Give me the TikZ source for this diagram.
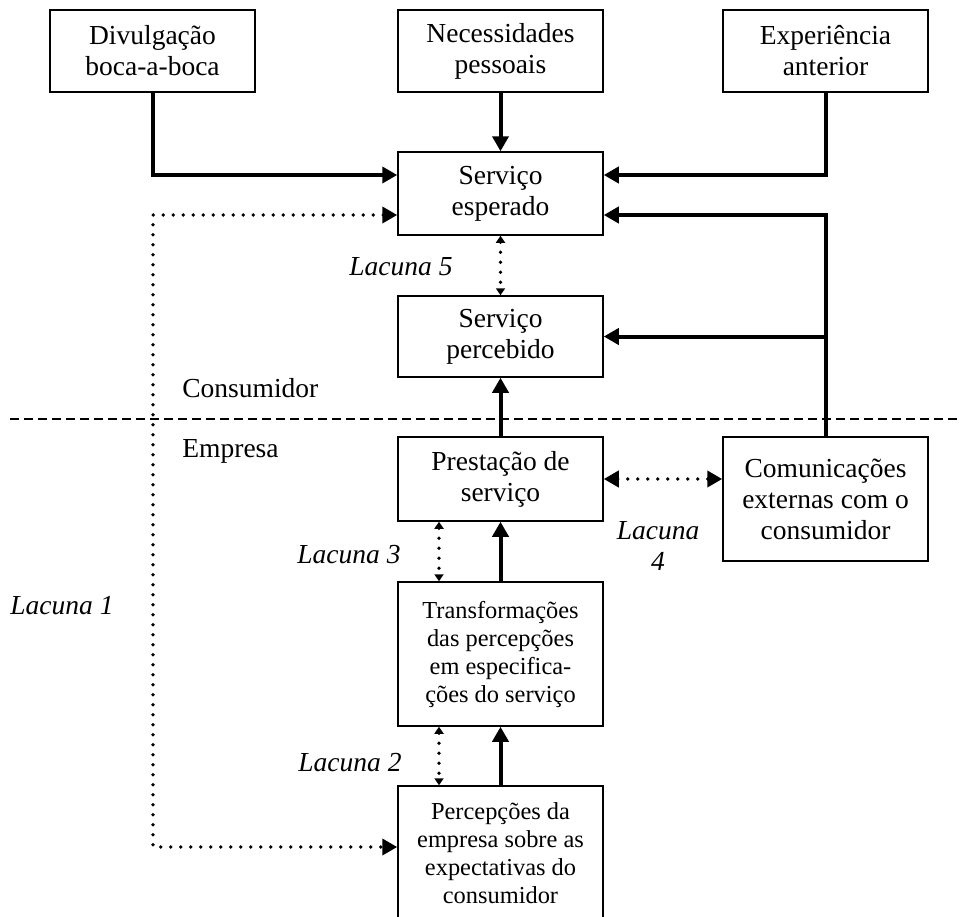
\documentclass[tikz,border=0pt]{standalone}
\usepackage{fontspec}
\setmainfont{Liberation Serif}
\usetikzlibrary{arrows.meta}

\begin{document}
\begin{tikzpicture}[x=0.5pt,y=-0.5pt,
  font=\fontsize{13.75}{15.5}\selectfont,
  caixa/.style={draw,line width=0.75pt,minimum width=102.5pt,inner sep=0pt,align=center},
  menor/.style={font=\fontsize{12.2}{14}\selectfont},
  fluxo/.style={line width=2pt,-{Triangle[length=7.5pt,width=8pt]}},
  lacuna/.style={line width=1.9pt,dash pattern=on 0pt off 5pt,line cap=round},
  lacunaP/.style={lacuna,{Triangle[length=3.5pt,width=4.5pt]}-{Triangle[length=3.5pt,width=4.5pt]}},
  lacunaG/.style={lacuna,{Triangle[length=7.5pt,width=8pt]}-{Triangle[length=7.5pt,width=8pt]}},
  rotulo/.style={font=\fontsize{13.75}{15.5}\selectfont\itshape,inner sep=0pt,align=center}]
  \useasboundingbox (0,0) rectangle (961,916);
  % caixas
  \node[caixa,minimum height=41pt] (divulg) at (152.5,51) {Divulgação\\boca-a-boca};
  \node[caixa,minimum height=41pt] (necess) at (500.5,51) {Necessidades\\pessoais};
  \node[caixa,minimum height=41pt] (exper) at (825.5,51) {Experiência\\anterior};
  \node[caixa,minimum height=41.5pt] (esperado) at (500.5,193.5) {Serviço\\esperado};
  \node[caixa,minimum height=40.5pt] (percebido) at (500.5,336.5) {Serviço\\percebido};
  \node[caixa,minimum height=42pt] (prestacao) at (500.5,479) {Prestação de\\serviço};
  \node[caixa,minimum height=62pt] (comunic) at (825.5,499) {Comunicações\\externas com o\\consumidor};
  \node[caixa,menor,minimum height=72pt] (transf) at (500.5,654) {Transformações\\das percepções\\em especifica-\\ções do serviço};
  \node[caixa,menor,minimum height=67pt] (percep) at (500.5,853) {Percepções da\\empresa sobre as\\expectativas do\\consumidor};
  % divisao consumidor / empresa
  \draw[line width=0.65pt,dash pattern=on 4.5pt off 2.5pt] (10,419) -- (961,419);
  \node[anchor=west,inner sep=0pt] (consum) at (182,388) {Consumidor};
  \node[anchor=west,inner sep=0pt] (empresa) at (182,451) {Empresa};
  % fluxos
  \draw[fluxo] (divulg.south) |- ([yshift=9.25pt]esperado.west);
  \draw[fluxo] (necess) -- (esperado);
  \draw[fluxo] (exper.south) |- ([yshift=9.25pt]esperado.east);
  \draw[fluxo] (comunic.north) |- ([yshift=-10.75pt]esperado.east);
  \draw[fluxo] (comunic.north |- percebido.east) -- (percebido.east);
  \draw[fluxo] (prestacao) -- (percebido);
  \draw[fluxo] (transf) -- (prestacao);
  \draw[fluxo] (percep) -- (transf);
  % lacunas
  \coordinate (canto) at (153,847);
  \draw[lacunaG] ([yshift=-10.75pt]esperado.west) -| (canto) -- ([yshift=3pt]percep.west);
  \draw[lacunaP] (esperado) -- (percebido);
  \draw[lacunaG] (prestacao.east) -- (prestacao.east -| comunic.west);
  \draw[lacunaP] ([xshift=-30.75pt]prestacao.south) -- ([xshift=-30.75pt]transf.north);
  \draw[lacunaP] ([xshift=-30.75pt]transf.south) -- ([xshift=-30.75pt]percep.north);
  \node[rotulo] (lac1) at (62,606) {Lacuna 1};
  \node[rotulo] (lac2) at (350,763) {Lacuna 2};
  \node[rotulo] (lac3) at (349,555) {Lacuna 3};
  \node[rotulo] (lac4) at (658,546) {Lacuna\\4};
  \node[rotulo] (lac5) at (401,267) {Lacuna 5};
\end{tikzpicture}
\end{document}
